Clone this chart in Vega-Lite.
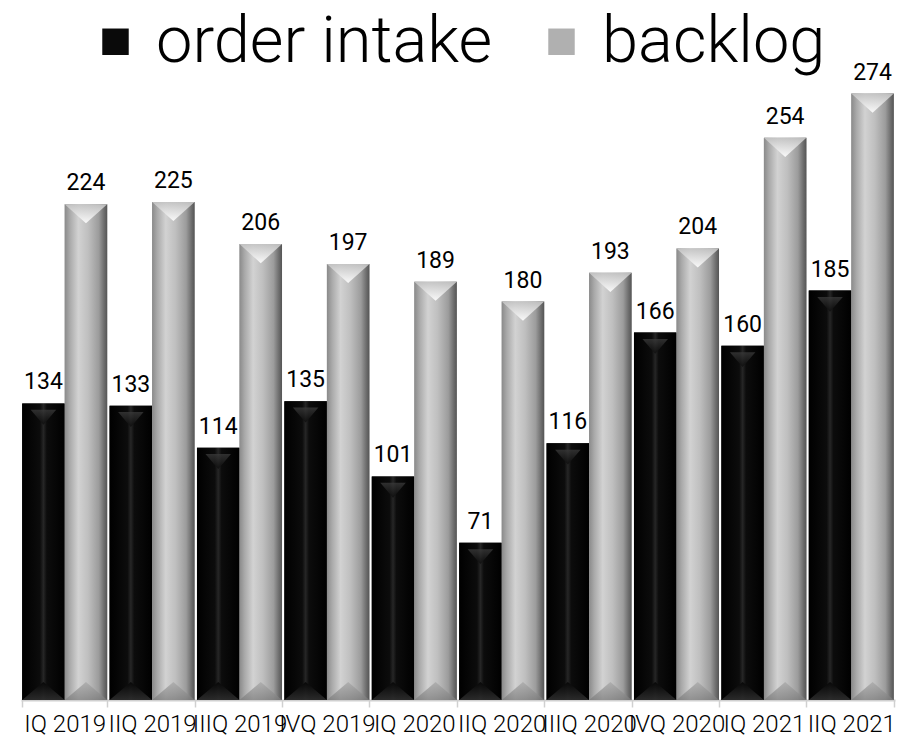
{
  "$schema": "https://vega.github.io/schema/vega-lite/v6.json",
  "width": 874,
  "height": 664,
  "autosize": {"type": "none"},
  "padding": {"left": 21, "top": 36, "right": 15, "bottom": 39},
  "background": "white",
  "config": {"view": {"stroke": null}, "font": "Roboto"},
  "data": {
    "values": [
      {"q": "IQ 2019", "series": "order intake", "value": 134},
      {"q": "IIQ 2019", "series": "order intake", "value": 133},
      {"q": "IIIQ 2019", "series": "order intake", "value": 114},
      {"q": "IVQ 2019", "series": "order intake", "value": 135},
      {"q": "IQ 2020", "series": "order intake", "value": 101},
      {"q": "IIQ 2020", "series": "order intake", "value": 71},
      {"q": "IIIQ 2020", "series": "order intake", "value": 116},
      {"q": "IVQ 2020", "series": "order intake", "value": 166},
      {"q": "IQ 2021", "series": "order intake", "value": 160},
      {"q": "IIQ 2021", "series": "order intake", "value": 185},
      {"q": "IQ 2019", "series": "backlog", "value": 224},
      {"q": "IIQ 2019", "series": "backlog", "value": 225},
      {"q": "IIIQ 2019", "series": "backlog", "value": 206},
      {"q": "IVQ 2019", "series": "backlog", "value": 197},
      {"q": "IQ 2020", "series": "backlog", "value": 189},
      {"q": "IIQ 2020", "series": "backlog", "value": 180},
      {"q": "IIIQ 2020", "series": "backlog", "value": 193},
      {"q": "IVQ 2020", "series": "backlog", "value": 204},
      {"q": "IQ 2021", "series": "backlog", "value": 254},
      {"q": "IIQ 2021", "series": "backlog", "value": 274}
    ]
  },
  "encoding": {
    "x": {
      "field": "q",
      "type": "nominal",
      "sort": null,
      "scale": {"paddingInner": 0.027, "paddingOuter": 0.0135},
      "axis": {
        "title": null,
        "tickBand": "extent",
        "domainColor": "#d0d0d0",
        "domainWidth": 2,
        "tickColor": "#d0d0d0",
        "tickWidth": 1.5,
        "tickSize": 7,
        "labelAngle": 0,
        "labelFontSize": 24,
        "labelFont": "Roboto",
        "labelFontWeight": 300,
        "labelColor": "#000000",
        "labelPadding": 5,
        "labelOverlap": false,
        "labelBound": false
      }
    },
    "xOffset": {"field": "series", "type": "nominal", "scale": {"domain": ["order intake", "backlog"]}},
    "y": {"field": "value", "type": "quantitative", "scale": {"domain": [0, 300], "nice": false}, "axis": null}
  },
  "layer": [
    {
      "mark": {"type": "bar"},
      "encoding": {
        "color": {
          "field": "series",
          "type": "nominal",
          "scale": {"domain": ["order intake", "backlog"], "range": ["#0a0a0a", "#b0b0b0"]},
          "legend": {
            "title": null,
            "orient": "none",
            "direction": "horizontal",
            "legendX": 62,
            "legendY": -27,
            "labelFontSize": 65,
            "labelFont": "Roboto",
            "labelFontWeight": 300,
            "labelColor": "#000000",
            "symbolType": "square",
            "symbolSize": 700,
            "symbolStrokeWidth": 0,
            "symbolOpacity": 1,
            "labelOffset": 8,
            "columnPadding": 36,
            "labelLimit": 0
          }
        }
      }
    },
    {
      "transform": [{"filter": "datum.series === 'order intake'"}],
      "mark": {
        "type": "bar",
        "fill": {"gradient": "linear", "x1": 0, "y1": 0, "x2": 1, "y2": 0, "stops": [
          {"offset": 0, "color": "#000000"},
          {"offset": 0.42, "color": "#0c0c0c"},
          {"offset": 0.5, "color": "#262626"},
          {"offset": 0.58, "color": "#0c0c0c"},
          {"offset": 1, "color": "#000000"}
        ]}
      }
    },
    {
      "transform": [{"filter": "datum.series === 'backlog'"}],
      "mark": {
        "type": "bar",
        "fill": {"gradient": "linear", "x1": 0, "y1": 0, "x2": 1, "y2": 0, "stops": [
          {"offset": 0, "color": "#8a8a8a"},
          {"offset": 0.12, "color": "#a9a9a9"},
          {"offset": 0.32, "color": "#d2d2d2"},
          {"offset": 0.55, "color": "#bfbfbf"},
          {"offset": 0.8, "color": "#9c9c9c"},
          {"offset": 0.93, "color": "#6c6c6c"},
          {"offset": 1, "color": "#555555"}
        ]}
      }
    },
    {
      "transform": [{"filter": "datum.series === 'backlog'"}],
      "mark": {
        "type": "point",
        "filled": true,
        "shape": "M -1 0 L 1 0 L 0 0.9 Z",
        "size": 1806,
        "strokeWidth": 0,
        "opacity": 0.9,
        "fill": {"gradient": "linear", "x1": 0, "y1": 0, "x2": 0, "y2": 1, "stops": [
          {"offset": 0, "color": "#c4c4c4"},
          {"offset": 1, "color": "#ffffff"}
        ]}
      }
    },
    {
      "transform": [{"filter": "datum.series === 'order intake'"}],
      "mark": {
        "type": "point",
        "filled": true,
        "shape": "M -0.6 0.3 L 0.6 0.3 L 0 1.0 Z",
        "size": 1806,
        "strokeWidth": 0,
        "opacity": 0.75,
        "fill": {"gradient": "linear", "x1": 0, "y1": 0, "x2": 0, "y2": 1, "stops": [
          {"offset": 0, "color": "#3c3c3c"},
          {"offset": 1, "color": "#0a0a0a"}
        ]}
      }
    },
    {
      "transform": [{"filter": "datum.series === 'order intake'"}],
      "mark": {
        "type": "point",
        "filled": true,
        "shape": "M -1 0 L 1 0 L 0 -0.85 Z",
        "size": 1806,
        "strokeWidth": 0,
        "opacity": 0.9,
        "fill": {"gradient": "linear", "x1": 0, "y1": 0, "x2": 0, "y2": 1, "stops": [
          {"offset": 0, "color": "#050505"},
          {"offset": 1, "color": "#2e2e2e"}
        ]}
      },
      "encoding": {"y": {"datum": 0, "type": "quantitative"}}
    },
    {
      "transform": [{"filter": "datum.series === 'backlog'"}],
      "mark": {
        "type": "point",
        "filled": true,
        "shape": "M -1 0 L 1 0 L 0 -0.85 Z",
        "size": 1806,
        "strokeWidth": 0,
        "opacity": 0.75,
        "fill": {"gradient": "linear", "x1": 0, "y1": 0, "x2": 0, "y2": 1, "stops": [
          {"offset": 0, "color": "#a8a8a8"},
          {"offset": 1, "color": "#7c7c7c"}
        ]}
      },
      "encoding": {"y": {"datum": 0, "type": "quantitative"}}
    },
    {
      "mark": {"type": "text", "baseline": "alphabetic", "dy": -14, "fontSize": 23, "font": "Roboto", "color": "#000000"},
      "encoding": {"text": {"field": "value", "type": "quantitative"}}
    }
  ]
}
